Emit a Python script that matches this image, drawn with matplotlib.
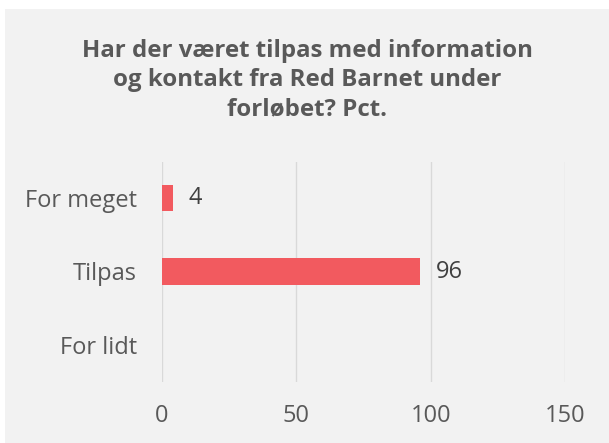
import matplotlib.pyplot as plt
from matplotlib.patches import Rectangle

categories = ["For meget", "Tilpas", "For lidt"]
values = [4, 96, 0]
xticks = [0, 50, 100, 150]
title = "Har der været tilpas med information\nog kontakt fra Red Barnet under\nforløbet? Pct."

plt.rcParams['font.family'] = ['Open Sans', 'DejaVu Sans']

fig = plt.figure(figsize=(6.09, 4.43), dpi=100)
fig.patch.set_facecolor('white')
# grå baggrund (lille hvid kant øverst og til venstre)
fig.patches.append(Rectangle((5 / 609, -1), 2, 2 - 9 / 443, transform=fig.transFigure,
                             facecolor='#f2f2f2', edgecolor='none', zorder=-1))

ax = fig.add_axes([162 / 609, 1 - 381.5 / 443, (565 - 162) / 609, 220 / 443])
ax.set_facecolor('none')
ax.set_zorder(1)

y = list(range(len(categories)))
bars = ax.barh(y, values, height=0.36, color='#f25a5f', zorder=3)
for yi, v in zip(y, values):
    if v > 0:
        ax.text(v + 6, yi, str(v), va='center', ha='left', fontsize=17, color='#404040')

ax.set_xlim(0, 150)
ax.set_ylim(len(categories) - 0.5, -0.5)
ax.set_xticks(xticks)
ax.set_yticks(y)
ax.set_yticklabels(categories)
ax.tick_params(axis='both', length=0, labelsize=17, colors='#595959')
ax.tick_params(axis='y', pad=18)
ax.tick_params(axis='x', pad=16)
ax.grid(axis='x', color='#d9d9d9', linewidth=1, zorder=0)
for s in ax.spines.values():
    s.set_visible(False)

fig.text(0.5 + 2.5 / 609, 1 - 80 / 443, title, ha='center', va='center', fontsize=17.3,
         fontweight='bold', color='#595959', linespacing=1.3)

fig.savefig('out.png', dpi=100)
